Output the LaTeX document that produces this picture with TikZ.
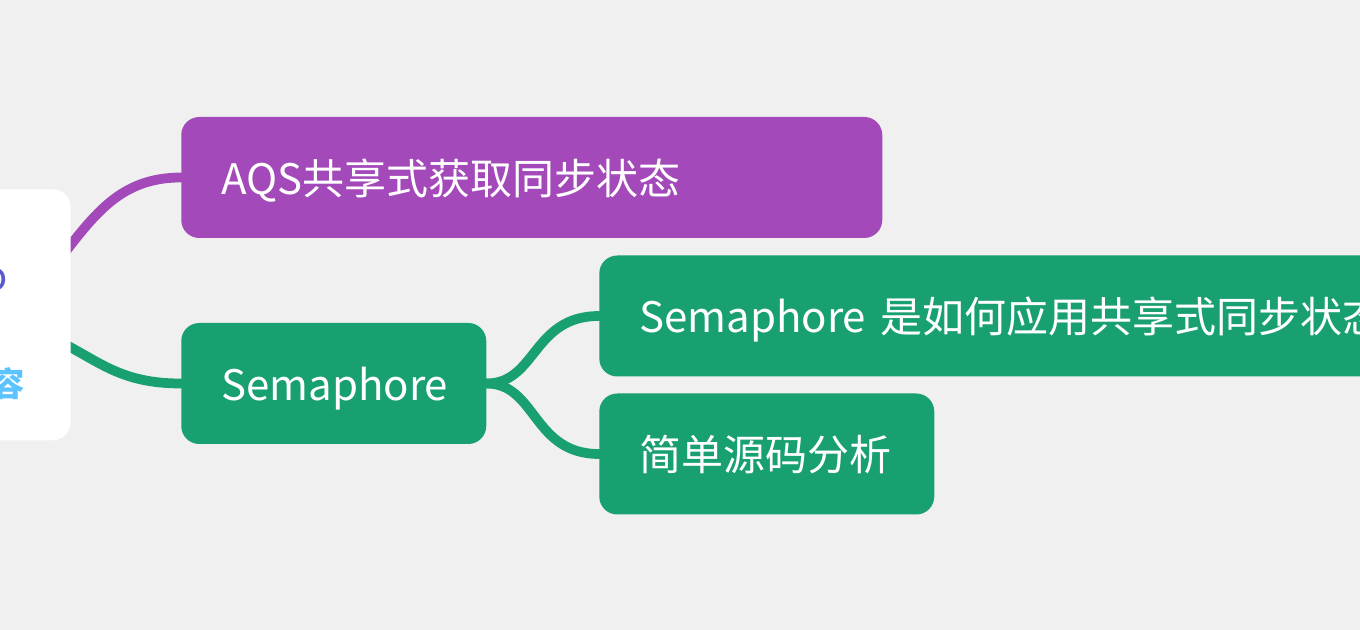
\documentclass[tikz,border=0pt]{standalone}
\usepackage{fontspec}
\setmainfont{Noto Sans CJK SC}
\definecolor{bg}{HTML}{F0F0F0}
\definecolor{purp}{HTML}{A349BA}
\definecolor{grn}{HTML}{18A070}
\definecolor{indigo}{HTML}{5A5AD0}
\definecolor{lblue}{HTML}{5CC3FF}
\pgfdeclarelayer{bgl}
\pgfdeclarelayer{lines}
\pgfsetlayers{bgl,lines,main}
\begin{document}
\begin{tikzpicture}[x=0.75pt,y=-0.75pt,
  box/.style={rounded corners=13.5pt, anchor=west, inner xsep=30pt, inner ysep=0pt,
    align=left, font=\fontsize{31.5}{38}\selectfont, text=white, minimum height=90.75pt,
    text height=26pt, text depth=1.2pt},
  link/.style={line width=7.3pt, line cap=round}]
\useasboundingbox (0,0) rectangle (1360,630);
\clip (0,0) rectangle (1360,630);
\begin{pgfonlayer}{bgl}
\fill[bg] (0,0) rectangle (1360,630);
\end{pgfonlayer}
% nodes
\node[fill=white, rounded corners=13.5pt, anchor=north east, minimum width=165.75pt,
  minimum height=188.25pt, inner sep=0pt] (root) at (71,189) {};
\node[inner sep=0pt, text=indigo, font=\fontsize{30}{36}\selectfont] (rootA) at (-4,280) {o};
\node[inner sep=0pt, text=lblue, font=\fontsize{25}{30}\selectfont\bfseries] (rootB) at (8,384) {容};
\node[box, fill=purp, text width=465.75pt] (aqs) at (181,177.5) {AQS共享式获取同步状态};
\node[box, fill=grn, text width=168.75pt] (sem) at (181,383.5) {Semaphore};
\node[box, fill=grn, text width=600pt] (sh) at (599,316) {Semaphore 是如何应用共享式同步状态};
\node[box, fill=grn, text width=191.25pt] (src) at (599,454) {简单源码分析};
% connectors
\begin{pgfonlayer}{lines}
\draw[link, purp] ([shift={(-11,-56)}]root.east) .. controls +(35,-45) and ([xshift=-45]aqs.west) .. (aqs.west);
\draw[link, grn] ([shift={(-11,27)}]root.east) .. controls +(40,20) and ([xshift=-45]sem.west) .. (sem.west);
\draw[link, grn] (sem.east) .. controls +(50,0) and ([xshift=-50]sh.west) .. (sh.west);
\draw[link, grn] (sem.east) .. controls +(50,0) and ([xshift=-50]src.west) .. (src.west);
\end{pgfonlayer}
\end{tikzpicture}
\end{document}
